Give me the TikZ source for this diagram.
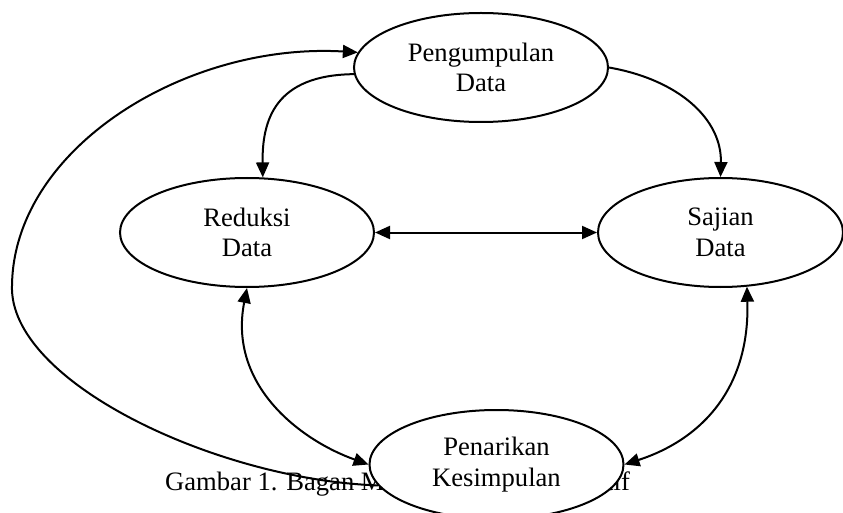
\documentclass[tikz,border=0pt]{standalone}
\usepackage{fontspec}
\setmainfont{Liberation Serif}
\usetikzlibrary{shapes.geometric,arrows.meta,backgrounds}
\begin{document}
\begin{tikzpicture}[x=1pt,y=-1pt,
  stage/.style={ellipse,draw,line width=2pt,fill=white,minimum width=254pt,minimum height=109pt,inner sep=0pt,align=center,font=\fontsize{26.6}{30.5}\selectfont},
  conn/.style={line width=2pt,-{Triangle[length=15pt,width=13pt]}},
  biconn/.style={line width=2pt,{Triangle[length=15pt,width=13pt]}-{Triangle[length=15pt,width=13pt]}},
  captext/.style={anchor=base west,inner sep=0pt,font=\fontsize{26.6}{30.5}\selectfont}]
\useasboundingbox (0,0) rectangle (843,513);
\node[stage] (pg) at (481,67.5) {Pengumpulan\\Data};
\node[stage] (rd) at (247,232.5) {Reduksi\\Data};
\node[stage,minimum width=245pt] (sj) at (720.5,232.5) {Sajian\\Data};
\node[stage] (pk) at (496.5,464.5) {Penarikan\\Kesimpulan};
\begin{pgfonlayer}{background}
\node[captext] (cap) at (165,490) {Gambar 1. Bagan Model Analisis Interaktif};
\draw[conn] (pk.190) .. controls (220,480) and (15,385) .. (12,290)
  .. controls (10,150) and (185,42) .. (pg.173);
\draw[conn] (pg.183) .. controls (275,75) and (262,120) .. (rd.74);
\draw[conn] (pg.east) .. controls (680,80) and (722,120) .. (sj.north);
\draw[biconn] (rd.east) -- (sj.west);
\draw[biconn] (rd.south) .. controls (228,385) and (300,440) .. (pk.west);
\draw[biconn] (sj.-64) .. controls (750,390) and (700,440) .. (pk.east);
\end{pgfonlayer}
\end{tikzpicture}
\end{document}
